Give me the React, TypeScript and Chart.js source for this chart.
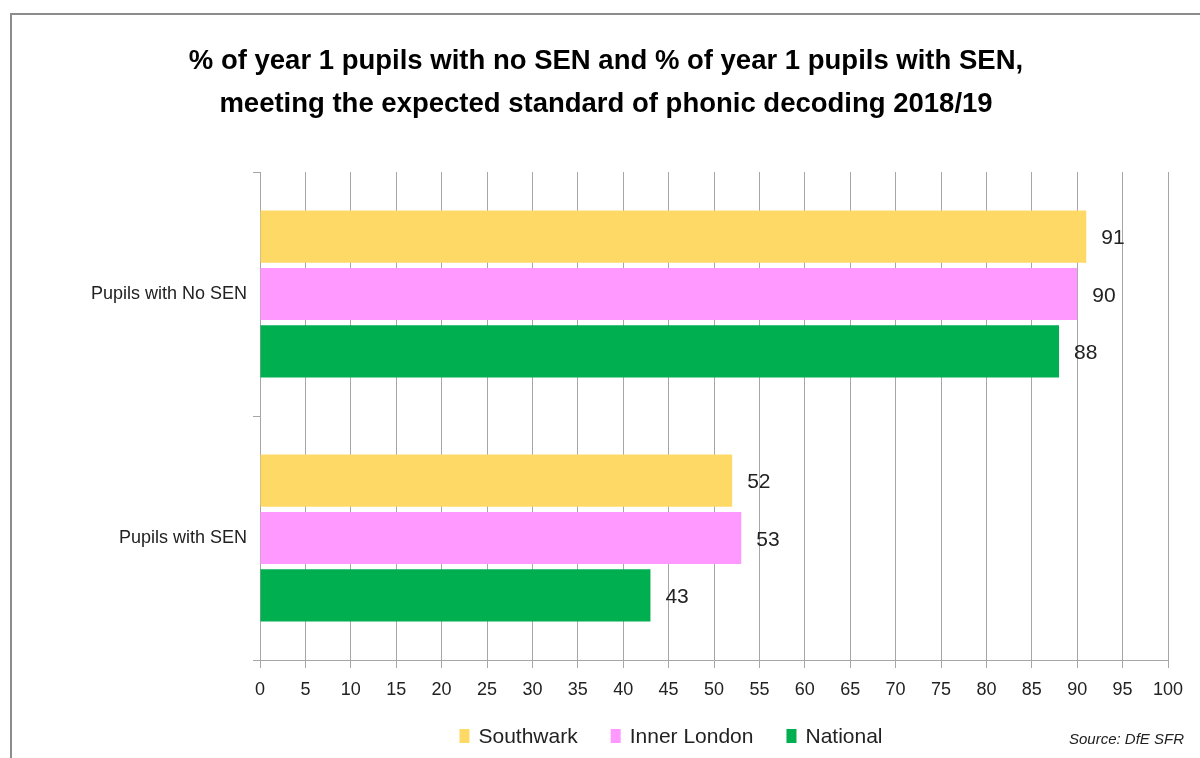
import React, { useEffect, useRef } from "react";
import { Chart, registerables } from "chart.js";

Chart.register(...registerables);

const categories = ["Pupils with No SEN", "Pupils with SEN"];
const seriesNames = ["Southwark", "Inner London", "National"];
const southwark = [91, 52];
const innerLondon = [90, 53];
const national = [88, 43];
const seriesColors = ["#FFD966", "#FF99FF", "#00B050"];
const titleLines = [
  "% of year 1 pupils with no SEN and % of year 1 pupils with SEN,",
  "meeting the expected standard of phonic decoding 2018/19",
];
const sourceText = "Source: DfE SFR";
const xTickMin = 0;
const xTickMax = 100;
const xTickStep = 5;

const FONT = "'Liberation Sans', Arial, sans-serif";
const TEXT = "#222222";
const GRID = "#A6A6A6";

const decorPlugin = {
  id: "decor",
  afterDraw(chart: any) {
    const ctx = chart.ctx as CanvasRenderingContext2D;
    ctx.save();
    // frame
    ctx.strokeStyle = "#8C8C8C";
    ctx.lineWidth = 2;
    ctx.beginPath();
    ctx.moveTo(11, chart.height + 5);
    ctx.lineTo(11, 14);
    ctx.lineTo(chart.width + 5, 14);
    ctx.stroke();

    // title
    ctx.fillStyle = "#000";
    ctx.font = `bold 27.5px ${FONT}`;
    ctx.textAlign = "center";
    ctx.textBaseline = "middle";
    ctx.fillText(titleLines[0], 606, 61);
    ctx.fillText(titleLines[1], 606, 104);

    // data labels
    ctx.font = `21px ${FONT}`;
    ctx.fillStyle = TEXT;
    ctx.textAlign = "left";
    chart.data.datasets.forEach((ds: any, i: number) => {
      const meta = chart.getDatasetMeta(i);
      meta.data.forEach((bar: any, j: number) => {
        ctx.fillText(String(ds.data[j]), bar.x + 15, bar.y + 2);
      });
    });

    // legend
    ctx.font = `21px ${FONT}`;
    const boxW = 10;
    const boxH = 14;
    const textGap = 9;
    const itemGap = 33;
    const widths = seriesNames.map((n) => ctx.measureText(n).width);
    const total =
      widths.reduce((a, b) => a + b + boxW + textGap, 0) + itemGap * (seriesNames.length - 1);
    let x = 671 - total / 2;
    const cy = 736;
    seriesNames.forEach((n, i) => {
      ctx.fillStyle = seriesColors[i];
      ctx.fillRect(x, cy - boxH / 2, boxW, boxH);
      ctx.fillStyle = TEXT;
      ctx.textAlign = "left";
      ctx.fillText(n, x + boxW + textGap, cy + 1);
      x += boxW + textGap + widths[i] + itemGap;
    });

    // source
    ctx.font = `italic 15px ${FONT}`;
    ctx.textAlign = "right";
    ctx.fillText(sourceText, 1184, 740);
    ctx.restore();
  },
};

export default function App() {
  const ref = useRef<HTMLCanvasElement>(null);
  useEffect(() => {
    if (!ref.current) return;
    const data = [southwark, innerLondon, national];
    const chart = new Chart(ref.current, {
      type: "bar",
      data: {
        labels: categories,
        datasets: seriesNames.map((name, i) => ({
          label: name,
          data: data[i],
          backgroundColor: seriesColors[i],
          borderWidth: 0,
          categoryPercentage: 0.705,
          barPercentage: 0.91,
        })),
      },
      options: {
        indexAxis: "y",
        animation: false,
        responsive: false,
        maintainAspectRatio: false,
        layout: { padding: { top: 172, right: 32, bottom: 58, left: 0 } },
        plugins: {
          legend: { display: false },
          title: { display: false },
          tooltip: { enabled: false },
        },
        scales: {
          x: {
            min: xTickMin,
            max: xTickMax,
            ticks: {
              stepSize: xTickStep,
              color: TEXT,
              font: { family: FONT, size: 18 },
              padding: 11,
              maxRotation: 0,
              autoSkip: false,
            },
            grid: { color: GRID, lineWidth: 1, tickLength: 8 },
            border: { color: GRID, width: 1 },
            afterFit(scale: any) {
              scale.height = 40;
            },
          },
          y: {
            ticks: {
              color: TEXT,
              font: { family: FONT, size: 18 },
              padding: 6,
            },
            grid: {
              drawOnChartArea: false,
              offset: true,
              tickLength: 7,
              color: GRID,
            },
            border: { color: GRID, width: 1 },
            afterFit(scale: any) {
              scale.width = 260;
            },
          },
        },
      },
      plugins: [decorPlugin],
    });
    return () => chart.destroy();
  }, []);
  return (
    <div style={{ position: "fixed", left: 0, top: 0, width: 1200, height: 758, background: "#fff" }}>
      <canvas ref={ref} width={1200} height={758} />
    </div>
  );
}
